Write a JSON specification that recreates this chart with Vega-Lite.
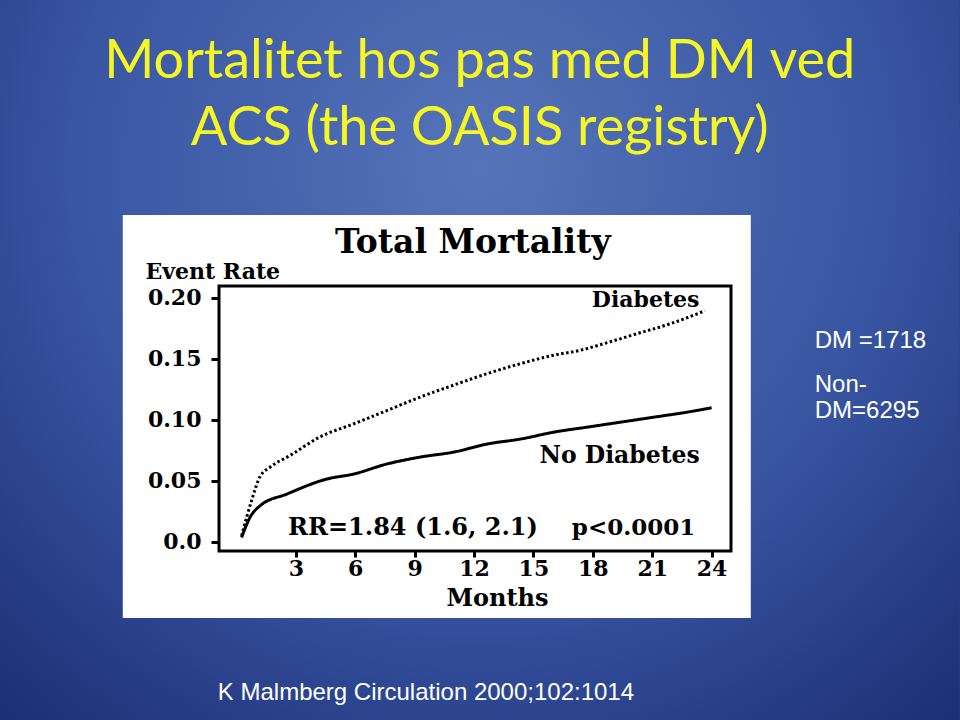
{
  "$schema": "https://vega.github.io/schema/vega-lite/v6.json",
  "width": 512,
  "height": 265,
  "autosize": {"type": "none"},
  "padding": {"left": 219, "top": 286, "right": 229, "bottom": 169},
  "background": "#2a4088",
  "config": {
    "view": {"stroke": null},
    "axis": {
      "domain": false, "grid": false, "tickColor": "black", "tickWidth": 3,
      "labelColor": "black", "labelFont": "DejaVu Serif", "labelFontWeight": "bold",
      "titleFont": "DejaVu Serif", "titleFontWeight": "bold", "titleColor": "black", "zindex": 1
    }
  },
  "datasets": {
    "curves": [
      {"group": "Diabetes", "month": 0.26, "rate": 0.0048},
      {"group": "Diabetes", "month": 0.77, "rate": 0.034},
      {"group": "Diabetes", "month": 1.18, "rate": 0.053},
      {"group": "Diabetes", "month": 1.69, "rate": 0.061},
      {"group": "Diabetes", "month": 2.7, "rate": 0.0706},
      {"group": "Diabetes", "month": 4.21, "rate": 0.0858},
      {"group": "Diabetes", "month": 5.92, "rate": 0.0966},
      {"group": "Diabetes", "month": 7.6, "rate": 0.1075},
      {"group": "Diabetes", "month": 9.29, "rate": 0.1186},
      {"group": "Diabetes", "month": 10.98, "rate": 0.1284},
      {"group": "Diabetes", "month": 12.67, "rate": 0.1378},
      {"group": "Diabetes", "month": 14.36, "rate": 0.146},
      {"group": "Diabetes", "month": 16.06, "rate": 0.153},
      {"group": "Diabetes", "month": 17.39, "rate": 0.157},
      {"group": "Diabetes", "month": 18.59, "rate": 0.1625},
      {"group": "Diabetes", "month": 20.27, "rate": 0.1707},
      {"group": "Diabetes", "month": 21.96, "rate": 0.1789},
      {"group": "Diabetes", "month": 23.66, "rate": 0.1893},
      {"group": "No Diabetes", "month": 0.26, "rate": 0.0034},
      {"group": "No Diabetes", "month": 0.68, "rate": 0.0198},
      {"group": "No Diabetes", "month": 1.18, "rate": 0.0293},
      {"group": "No Diabetes", "month": 2.55, "rate": 0.0391},
      {"group": "No Diabetes", "month": 4.57, "rate": 0.0514},
      {"group": "No Diabetes", "month": 5.92, "rate": 0.0555},
      {"group": "No Diabetes", "month": 7.6, "rate": 0.0637},
      {"group": "No Diabetes", "month": 9.29, "rate": 0.0694},
      {"group": "No Diabetes", "month": 10.98, "rate": 0.0735},
      {"group": "No Diabetes", "month": 12.67, "rate": 0.0801},
      {"group": "No Diabetes", "month": 14.36, "rate": 0.0842},
      {"group": "No Diabetes", "month": 16.06, "rate": 0.0899},
      {"group": "No Diabetes", "month": 17.75, "rate": 0.094},
      {"group": "No Diabetes", "month": 19.44, "rate": 0.0981},
      {"group": "No Diabetes", "month": 21.13, "rate": 0.1022},
      {"group": "No Diabetes", "month": 22.8, "rate": 0.1063},
      {"group": "No Diabetes", "month": 24.0, "rate": 0.1098}
    ],
    "one": [{"n": 1}]
  },
  "layer": [
    {
      "data": {"name": "one"},
      "mark": {
        "type": "rect",
        "fill": {
          "gradient": "radial", "x1": 0.5, "y1": 0.3, "r1": 0, "x2": 0.5, "y2": 0.3, "r2": 0.78,
          "stops": [{"offset": 0, "color": "#5574b9"}, {"offset": 0.55, "color": "#3855a2"}, {"offset": 1, "color": "#1b2c72"}]
        }
      },
      "encoding": {
        "x": {"datum": -11.95, "type": "quantitative", "scale": {"domain": [-0.88, 24.98], "nice": false, "zero": false}}, "x2": {"datum": 36.53},
        "y": {"datum": 0.444, "type": "quantitative", "scale": {"domain": [-0.0076, 0.2096], "nice": false, "zero": false}}, "y2": {"datum": -0.1461}
      }
    },
    {
      "data": {"name": "one"},
      "mark": {"type": "rect", "fill": "white"},
      "encoding": {
        "x": {"datum": -5.74, "type": "quantitative"}, "x2": {"datum": 25.98},
        "y": {"datum": 0.2678, "type": "quantitative"}, "y2": {"datum": -0.0625}
      }
    },
    {
      "data": {"name": "one"},
      "mark": {"type": "rect", "filled": false, "stroke": "black", "strokeWidth": 3},
      "encoding": {
        "x": {"datum": -0.88, "type": "quantitative"}, "x2": {"datum": 24.98},
        "y": {"datum": -0.0076, "type": "quantitative"}, "y2": {"datum": 0.2096}
      }
    },
    {
      "data": {"name": "curves"},
      "mark": {"type": "line", "color": "black", "strokeWidth": 3, "interpolate": "monotone"},
      "encoding": {
        "x": {
          "field": "month", "type": "quantitative",
          "scale": {"domain": [-0.88, 24.98], "nice": false, "zero": false},
          "axis": {
            "values": [3, 6, 9, 12, 15, 18, 21, 24], "tickSize": 6, "labelPadding": 1,
            "labelFontSize": 22, "title": "Months", "titleFontSize": 24, "zindex": 1,
            "titleX": 278, "titleY": 54, "titleAlign": "center", "titleBaseline": "alphabetic"
          }
        },
        "y": {
          "field": "rate", "type": "quantitative",
          "scale": {"domain": [-0.0076, 0.2096], "nice": false, "zero": false},
          "axis": {
            "values": [0, 0.05, 0.1, 0.15, 0.2], "tickSize": 8, "labelPadding": 10,
            "labelFontSize": 22, "zindex": 1,
            "labelExpr": "datum.value == 0 ? '0.0' : format(datum.value, '.2f')",
            "title": "Event Rate", "titleFontSize": 22, "titleAngle": 0, "titleAlign": "left",
            "titleBaseline": "alphabetic", "titleX": -74, "titleY": -8
          }
        },
        "strokeDash": {
          "field": "group", "type": "nominal", "legend": null,
          "scale": {"domain": ["Diabetes", "No Diabetes"], "range": [[2.5, 2.5], [1, 0]]}
        }
      }
    },
    {
      "data": {"name": "one"},
      "mark": {"type": "text", "text": "Mortalitet hos pas med DM ved", "font": "Lato", "fontSize": 54, "align": "center", "baseline": "alphabetic", "color": "#f6f626"},
      "encoding": {"x": {"datum": 12.29, "type": "quantitative"}, "y": {"datum": 0.3801, "type": "quantitative"}}
    },
    {
      "data": {"name": "one"},
      "mark": {"type": "text", "text": "ACS (the OASIS registry)", "font": "Lato", "fontSize": 54, "align": "center", "baseline": "alphabetic", "color": "#f6f626"},
      "encoding": {"x": {"datum": 12.29, "type": "quantitative"}, "y": {"datum": 0.3252, "type": "quantitative"}}
    },
    {
      "data": {"name": "one"},
      "mark": {"type": "text", "text": "Total Mortality", "font": "DejaVu Serif", "fontWeight": "bold", "fontSize": 33, "align": "center", "baseline": "alphabetic", "color": "black"},
      "encoding": {"x": {"datum": 11.94, "type": "quantitative"}, "y": {"datum": 0.2366, "type": "quantitative"}}
    },
    {
      "data": {"name": "one"},
      "mark": {"type": "text", "text": "Diabetes", "font": "DejaVu Serif", "fontWeight": "bold", "fontSize": 22, "align": "left", "baseline": "alphabetic", "color": "black"},
      "encoding": {"x": {"datum": 17.95, "type": "quantitative"}, "y": {"datum": 0.1924, "type": "quantitative"}}
    },
    {
      "data": {"name": "one"},
      "mark": {"type": "text", "text": "No Diabetes", "font": "DejaVu Serif", "fontWeight": "bold", "fontSize": 23.5, "align": "right", "baseline": "alphabetic", "color": "black"},
      "encoding": {"x": {"datum": 23.4, "type": "quantitative"}, "y": {"datum": 0.0645, "type": "quantitative"}}
    },
    {
      "data": {"name": "one"},
      "mark": {"type": "text", "text": "RR=1.84 (1.6, 2.1)", "font": "DejaVu Serif", "fontWeight": "bold", "fontSize": 24, "align": "left", "baseline": "alphabetic", "color": "black"},
      "encoding": {"x": {"datum": 2.61, "type": "quantitative"}, "y": {"datum": 0.0055, "type": "quantitative"}}
    },
    {
      "data": {"name": "one"},
      "mark": {"type": "text", "text": "p<0.0001", "font": "DejaVu Serif", "fontWeight": "bold", "fontSize": 23, "align": "left", "baseline": "alphabetic", "color": "black"},
      "encoding": {"x": {"datum": 16.94, "type": "quantitative"}, "y": {"datum": 0.0055, "type": "quantitative"}}
    },
    {
      "data": {"name": "one"},
      "mark": {"type": "text", "text": "DM =1718", "font": "Liberation Sans", "fontSize": 24, "align": "left", "baseline": "alphabetic", "color": "white"},
      "encoding": {"x": {"datum": 29.21, "type": "quantitative"}, "y": {"datum": 0.1588, "type": "quantitative"}}
    },
    {
      "data": {"name": "one"},
      "mark": {"type": "text", "text": "Non-", "font": "Liberation Sans", "fontSize": 24, "align": "left", "baseline": "alphabetic", "color": "white"},
      "encoding": {"x": {"datum": 29.21, "type": "quantitative"}, "y": {"datum": 0.1227, "type": "quantitative"}}
    },
    {
      "data": {"name": "one"},
      "mark": {"type": "text", "text": "DM=6295", "font": "Liberation Sans", "fontSize": 24, "align": "left", "baseline": "alphabetic", "color": "white"},
      "encoding": {"x": {"datum": 29.21, "type": "quantitative"}, "y": {"datum": 0.1014, "type": "quantitative"}}
    },
    {
      "data": {"name": "one"},
      "mark": {"type": "text", "text": "K Malmberg Circulation 2000;102:1014", "font": "Liberation Sans", "fontSize": 24, "align": "left", "baseline": "alphabetic", "color": "white"},
      "encoding": {"x": {"datum": -0.94, "type": "quantitative"}, "y": {"datum": -0.1298, "type": "quantitative"}}
    }
  ]
}
